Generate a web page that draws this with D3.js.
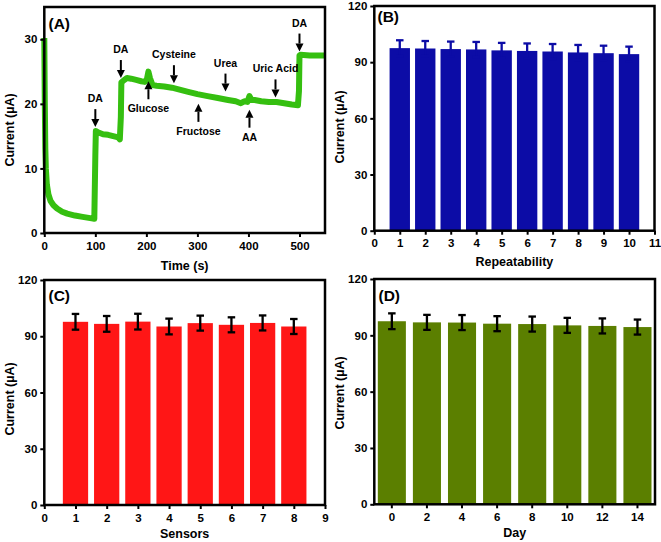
<!DOCTYPE html>
<html>
<head>
<meta charset="utf-8">
<script src="https://cdn.jsdelivr.net/npm/d3@7"></script>
<style>
  html, body { margin: 0; padding: 0; background: #fff; }
  svg { display: block; font-family: "Liberation Sans", Arial, sans-serif; font-weight: bold; }
</style>
</head>
<body>
<svg id="chart" width="661" height="542"></svg>
<script>
// ---------- DATA ----------
// Panel A: amperometric response (time in s, current in µA)
const timeA = [0, 1, 2, 3, 5, 8, 12, 18, 25, 35, 45, 60, 75, 90, 98, 100, 101, 105, 115, 125, 135, 145, 148, 150, 151, 155, 162, 170, 180, 190, 197, 201, 204, 207, 212, 220, 235, 250, 265, 280, 300, 320, 340, 360, 375, 385, 392, 398, 402, 406, 412, 425, 440, 455, 470, 485, 497, 499, 500, 502, 520, 550];
const currentA = [30.2, 20, 13, 10, 7.5, 6, 5, 4.3, 3.8, 3.3, 3.0, 2.7, 2.5, 2.3, 2.2, 12, 15.8, 15.6, 15.3, 15.2, 15.0, 14.8, 14.5, 18, 23.3, 23.6, 24.0, 23.9, 23.7, 23.5, 23.4, 23.8, 25.0, 24.0, 22.9, 22.8, 22.7, 22.5, 22.2, 21.9, 21.5, 21.2, 20.9, 20.6, 20.4, 20.1, 20.4, 20.3, 21.2, 20.6, 20.6, 20.4, 20.3, 20.3, 20.1, 19.9, 19.8, 22, 27.5, 27.6, 27.5, 27.5];
// Injection annotations: label, time, arrow tip current, arrow direction
const annLabels = ["DA", "DA", "Glucose", "Cysteine", "Fructose", "Urea", "AA", "Uric Acid", "DA"];
const annTimes  = [100, 150, 204, 254, 302, 355, 402, 453, 500];
const annTips   = [16.4, 24.0, 23.5, 23.2, 20.0, 21.9, 19.1, 21.0, 28.1];
const annDirs   = ["down", "down", "up", "down", "up", "down", "up", "down", "down"];
const ticksAx = [0, 100, 200, 300, 400, 500];
const ticksAy = [0, 10, 20, 30];

// Panel B: repeatability
const repNo = [1, 2, 3, 4, 5, 6, 7, 8, 9, 10];
const repVal = [97.5, 97.3, 97.0, 96.8, 96.3, 96.0, 95.7, 95.2, 94.8, 94.3];
const repErr = [4.2, 4.0, 4.0, 4.0, 4.0, 4.0, 4.0, 4.0, 4.0, 4.0];
const ticksBx = [0, 1, 2, 3, 4, 5, 6, 7, 8, 9, 10, 11];

// Panel C: sensors (reproducibility)
const sensNo = [1, 2, 3, 4, 5, 6, 7, 8];
const sensVal = [97.7, 96.6, 97.8, 95.2, 97.0, 96.1, 97.1, 95.2];
const sensErr = [4.2, 4.2, 4.2, 4.2, 4.0, 4.0, 4.0, 4.0];
const ticksCx = [0, 1, 2, 3, 4, 5, 6, 7, 8, 9];

// Panel D: stability over days
const dayNo = ["0", "2", "4", "6", "8", "10", "12", "14"];
const dayVal = [97.5, 96.9, 96.8, 96.2, 96.0, 95.3, 95.0, 94.4];
const dayErr = [4.2, 4.0, 4.0, 4.0, 4.0, 4.0, 4.0, 4.0];

const ticksBarY = [0, 30, 60, 90, 120];

// ---------- STYLE / LAYOUT ----------
const svg = d3.select("#chart");
const FONT_TICK = 11.5, FONT_TITLE = 12.5, FONT_PANEL = 15.5, FONT_ANN = 10.5;
const FRAME_W = 2.5;

function styleAxis(g) {
  g.selectAll("path.domain").remove();
  g.selectAll(".tick line").attr("stroke", "#000").attr("stroke-width", 2);
  g.selectAll(".tick text").attr("fill", "#000").attr("font-size", FONT_TICK)
    .attr("font-weight", "bold").attr("font-family", "Liberation Sans, Arial, sans-serif");
}

function frame(box) {
  svg.append("rect").attr("x", box.l).attr("y", box.t)
    .attr("width", box.r - box.l).attr("height", box.b - box.t)
    .attr("fill", "none").attr("stroke", "#000").attr("stroke-width", FRAME_W);
}

function titles(box, xTitle, yTitle, panel, xTitleY, yTitleCY, panelPos) {
  svg.append("text").attr("x", (box.l + box.r) / 2).attr("y", xTitleY)
    .attr("text-anchor", "middle").attr("font-size", FONT_TITLE).text(xTitle);
  svg.append("text").attr("transform", `translate(${box.l - 30},${yTitleCY}) rotate(-90)`)
    .attr("text-anchor", "middle").attr("font-size", FONT_TITLE).text(yTitle);
  svg.append("text").attr("x", panelPos[0]).attr("y", panelPos[1])
    .attr("font-size", FONT_PANEL).text(panel);
}

// ---------- PANEL A ----------
(function () {
  const box = { l: 44.3, r: 325, t: 7, b: 233 };
  const x = d3.scaleLinear().domain([0, 550]).range([box.l, box.r]);
  const y = d3.scaleLinear().domain([0, 35]).range([box.b, box.t]);

  const pts = timeA.map((t, i) => [t, currentA[i]]);
  svg.append("path").datum(pts)
    .attr("d", d3.line().x(d => x(d[0])).y(d => y(d[1])))
    .attr("fill", "none").attr("stroke", "#35bf10").attr("stroke-width", 6)
    .attr("stroke-linejoin", "round");

  svg.append("g").attr("transform", `translate(0,${box.b})`)
    .call(d3.axisBottom(x).tickValues(ticksAx).tickSize(4).tickPadding(4.5)).call(styleAxis);
  svg.append("g").attr("transform", `translate(${box.l},0)`)
    .call(d3.axisLeft(y).tickValues(ticksAy).tickSize(4).tickPadding(3)).call(styleAxis);
  frame(box);

  // annotations
  const ARROW_LEN = 18;
  annLabels.forEach((lab, i) => {
    const ax = x(annTimes[i]);
    const tip = y(annTips[i]);
    const down = annDirs[i] === "down";
    const tail = down ? tip - ARROW_LEN : tip + ARROW_LEN;
    const headBase = down ? tip - 8 : tip + 8;
    svg.append("line").attr("x1", ax).attr("x2", ax).attr("y1", tail).attr("y2", headBase)
      .attr("stroke", "#000").attr("stroke-width", 2);
    svg.append("path")
      .attr("d", `M${ax - 4},${headBase} L${ax + 4},${headBase} L${ax},${tip} Z`)
      .attr("fill", "#000");
    svg.append("text").attr("x", ax).attr("y", down ? tail - 7 : tail + 13)
      .attr("text-anchor", "middle").attr("font-size", FONT_ANN).text(lab);
  });

  titles(box, "Time (s)", "Current (µA)", "(A)", 269.5, 130, [48.5, 28.8]);
})();

// ---------- BAR PANELS ----------
function barPanel(opts) {
  const { box, x, bw, cats, vals, errs, color, errColor, xTickVals, xTitle, panel, xTitleY, yTitleCY, panelPos } = opts;
  const y = d3.scaleLinear().domain([0, 120]).range([box.b, box.t]);

  const g = svg.append("g");
  g.selectAll("rect.bar").data(cats).enter().append("rect")
    .attr("x", (d) => x(d) - bw / 2).attr("width", bw)
    .attr("y", (d, i) => y(vals[i])).attr("height", (d, i) => y(0) - y(vals[i]))
    .attr("fill", color);

  const capW = 7.5;
  cats.forEach((c, i) => {
    const cx = x(c);
    const yt = y(vals[i] + errs[i]), yb = y(vals[i] - errs[i]);
    g.append("line").attr("x1", cx).attr("x2", cx).attr("y1", yt).attr("y2", yb)
      .attr("stroke", errColor).attr("stroke-width", 2.3);
    [yt, yb].forEach(yy => g.append("line").attr("x1", cx - capW / 2).attr("x2", cx + capW / 2)
      .attr("y1", yy).attr("y2", yy).attr("stroke", errColor).attr("stroke-width", 2.3));
  });

  svg.append("g").attr("transform", `translate(0,${box.b})`)
    .call(d3.axisBottom(x).tickValues(xTickVals).tickFormat(d3.format("d")).tickSize(4).tickPadding(4.5)).call(styleAxis);
  svg.append("g").attr("transform", `translate(${box.l},0)`)
    .call(d3.axisLeft(y).tickValues(ticksBarY).tickSize(4).tickPadding(3)).call(styleAxis);
  frame(box);
  titles(box, xTitle, "Current (µA)", panel, xTitleY, yTitleCY, panelPos);
}

// Panel B
(function () {
  const box = { l: 374.3, r: 654.5, t: 6, b: 230.7 };
  const x = d3.scaleLinear().domain([0, 11]).range([box.l, box.r]);
  barPanel({ box, x, bw: (x(1) - x(0)) * 0.8, cats: repNo, vals: repVal, errs: repErr,
    color: "#0c0ca6", errColor: "#0c0ca6", xTickVals: ticksBx, xTitle: "Repeatability",
    panel: "(B)", xTitleY: 265.5, yTitleCY: 127, panelPos: [377.5, 22] });
})();

// Panel C
(function () {
  const box = { l: 44.3, r: 325, t: 280, b: 505 };
  const x = d3.scaleLinear().domain([0, 9]).range([box.l, box.r]);
  barPanel({ box, x, bw: (x(1) - x(0)) * 0.81, cats: sensNo, vals: sensVal, errs: sensErr,
    color: "#ff1616", errColor: "#000", xTickVals: ticksCx, xTitle: "Sensors",
    panel: "(C)", xTitleY: 538, yTitleCY: 399, panelPos: [48.5, 301] });
})();

// Panel D
(function () {
  const box = { l: 374.3, r: 655, t: 279, b: 504.3 };
  const xb = d3.scaleBand().domain(dayNo).range([box.l, box.r]).paddingInner(0.2).paddingOuter(0.1);
  const bw = xb.bandwidth();
  const y = d3.scaleLinear().domain([0, 120]).range([box.b, box.t]);
  const g = svg.append("g");
  g.selectAll("rect.bar").data(dayNo).enter().append("rect")
    .attr("x", d => xb(d)).attr("width", bw)
    .attr("y", (d, i) => y(dayVal[i])).attr("height", (d, i) => y(0) - y(dayVal[i]))
    .attr("fill", "#5b7f00");
  const capW = 7.5;
  dayNo.forEach((c, i) => {
    const cx = xb(c) + bw / 2;
    const yt = y(dayVal[i] + dayErr[i]), yb = y(dayVal[i] - dayErr[i]);
    g.append("line").attr("x1", cx).attr("x2", cx).attr("y1", yt).attr("y2", yb)
      .attr("stroke", "#000").attr("stroke-width", 2.3);
    [yt, yb].forEach(yy => g.append("line").attr("x1", cx - capW / 2).attr("x2", cx + capW / 2)
      .attr("y1", yy).attr("y2", yy).attr("stroke", "#000").attr("stroke-width", 2.3));
  });
  svg.append("g").attr("transform", `translate(0,${box.b})`)
    .call(d3.axisBottom(xb).tickSize(4).tickPadding(4.5)).call(styleAxis);
  svg.append("g").attr("transform", `translate(${box.l},0)`)
    .call(d3.axisLeft(y).tickValues(ticksBarY).tickSize(4).tickPadding(3)).call(styleAxis);
  frame(box);
  titles(box, "Day", "Current (µA)", "(D)", 537, 393, [378.5, 300.5]);
})();
</script>
</body>
</html>
